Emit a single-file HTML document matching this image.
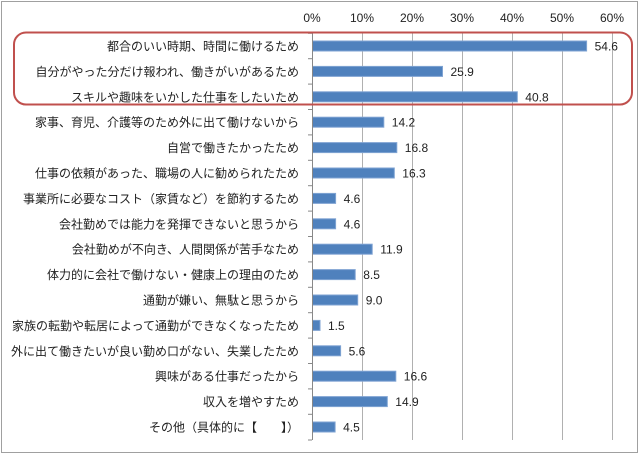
<!DOCTYPE html>
<html><head><meta charset="utf-8"><style>
html,body{margin:0;padding:0;background:#fff}
svg{display:block}
text{font-family:"Liberation Sans","Noto Sans CJK JP",sans-serif;fill:#222}
</style></head><body>
<svg width="640" height="455" viewBox="0 0 640 455">
<rect x="1.5" y="1.5" width="636" height="451" fill="#fff" stroke="#a0a0a0" stroke-width="1"/>
<g stroke="#b0b0b0" stroke-width="1">
<line x1="362.5" y1="33" x2="362.5" y2="440"/>
<line x1="412.5" y1="33" x2="412.5" y2="440"/>
<line x1="462.5" y1="33" x2="462.5" y2="440"/>
<line x1="512.5" y1="33" x2="512.5" y2="440"/>
<line x1="562.5" y1="33" x2="562.5" y2="440"/>
<line x1="612.5" y1="33" x2="612.5" y2="440"/>
</g>
<g font-size="12" text-anchor="middle">
<text x="312" y="22">0%</text><text x="362" y="22">10%</text><text x="412" y="22">20%</text><text x="462" y="22">30%</text><text x="512" y="22">40%</text><text x="562" y="22">50%</text><text x="612" y="22">60%</text>
</g>
<g fill="#4F81BD" stroke="#7fa3d3" stroke-width="1">
<rect x="312.5" y="41" width="274.1" height="10"/>
<rect x="312.5" y="66.4" width="130" height="10"/>
<rect x="312.5" y="91.8" width="204.8" height="10"/>
<rect x="312.5" y="117.2" width="71.3" height="10"/>
<rect x="312.5" y="142.6" width="84.3" height="10"/>
<rect x="312.5" y="168" width="81.8" height="10"/>
<rect x="312.5" y="193.4" width="23.1" height="10"/>
<rect x="312.5" y="218.8" width="23.1" height="10"/>
<rect x="312.5" y="244.2" width="59.7" height="10"/>
<rect x="312.5" y="269.6" width="42.7" height="10"/>
<rect x="312.5" y="295" width="45.2" height="10"/>
<rect x="312.5" y="320.4" width="7.5" height="10"/>
<rect x="312.5" y="345.8" width="28.1" height="10"/>
<rect x="312.5" y="371.2" width="83.3" height="10"/>
<rect x="312.5" y="396.6" width="74.8" height="10"/>
<rect x="312.5" y="422" width="22.6" height="10"/>
</g>
<line x1="312.5" y1="33" x2="312.5" y2="440" stroke="#888"/>
<g stroke="#888">
<line x1="308" x2="312" y1="33.3" y2="33.3"/><line x1="308" x2="312" y1="58.7" y2="58.7"/><line x1="308" x2="312" y1="84.1" y2="84.1"/><line x1="308" x2="312" y1="109.5" y2="109.5"/><line x1="308" x2="312" y1="134.9" y2="134.9"/><line x1="308" x2="312" y1="160.3" y2="160.3"/><line x1="308" x2="312" y1="185.7" y2="185.7"/><line x1="308" x2="312" y1="211.1" y2="211.1"/><line x1="308" x2="312" y1="236.5" y2="236.5"/><line x1="308" x2="312" y1="261.9" y2="261.9"/><line x1="308" x2="312" y1="287.3" y2="287.3"/><line x1="308" x2="312" y1="312.7" y2="312.7"/><line x1="308" x2="312" y1="338.1" y2="338.1"/><line x1="308" x2="312" y1="363.5" y2="363.5"/><line x1="308" x2="312" y1="388.9" y2="388.9"/><line x1="308" x2="312" y1="414.3" y2="414.3"/><line x1="308" x2="312" y1="440" y2="440"/>
</g>
<g font-size="12" text-anchor="end">
<text x="299" y="50.5">都合のいい時期、時間に働けるため</text>
<text x="299" y="75.9">自分がやった分だけ報われ、働きがいがあるため</text>
<text x="299" y="101.3">スキルや趣味をいかした仕事をしたいため</text>
<text x="299" y="126.7">家事、育児、介護等のため外に出て働けないから</text>
<text x="299" y="152.1">自営で働きたかったため</text>
<text x="299" y="177.5">仕事の依頼があった、職場の人に勧められたため</text>
<text x="299" y="202.9">事業所に必要なコスト（家賃など）を節約するため</text>
<text x="299" y="228.3">会社勤めでは能力を発揮できないと思うから</text>
<text x="299" y="253.7">会社勤めが不向き、人間関係が苦手なため</text>
<text x="299" y="279.1">体力的に会社で働けない・健康上の理由のため</text>
<text x="299" y="304.5">通勤が嫌い、無駄と思うから</text>
<text x="299" y="329.9">家族の転勤や転居によって通勤ができなくなったため</text>
<text x="299" y="355.3">外に出て働きたいが良い勤め口がない、失業したため</text>
<text x="299" y="380.7">興味がある仕事だったから</text>
<text x="299" y="406.1">収入を増やすため</text>
<text x="299" y="431.5">その他（具体的に【　　】）</text>
</g>
<g font-size="12">
<text x="594.6" y="50.5">54.6</text>
<text x="450.5" y="75.9">25.9</text>
<text x="525.3" y="101.3">40.8</text>
<text x="391.8" y="126.7">14.2</text>
<text x="404.8" y="152.1">16.8</text>
<text x="402.3" y="177.5">16.3</text>
<text x="343.6" y="202.9">4.6</text>
<text x="343.6" y="228.3">4.6</text>
<text x="380.2" y="253.7">11.9</text>
<text x="363.2" y="279.1">8.5</text>
<text x="365.7" y="304.5">9.0</text>
<text x="328" y="329.9">1.5</text>
<text x="348.6" y="355.3">5.6</text>
<text x="403.8" y="380.7">16.6</text>
<text x="395.3" y="406.1">14.9</text>
<text x="343.1" y="431.5">4.5</text>
</g>
<rect x="14" y="32.5" width="618" height="72" rx="12" ry="12" fill="none" stroke="#c0504d" stroke-width="2"/>
</svg>
</body></html>
